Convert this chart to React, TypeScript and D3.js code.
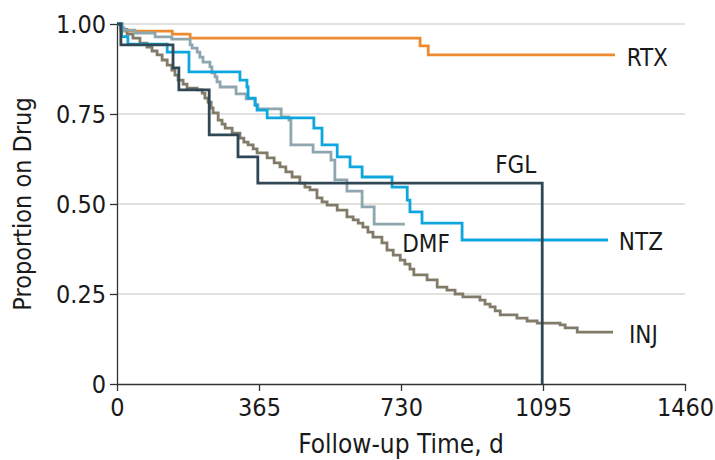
import React, { useRef, useEffect } from 'react';
import * as d3 from 'd3';

// Kaplan-Meier style drug persistence curves (days, proportion on drug)
const rtxDays = [0, 10, 142, 188, 779, 800, 1280];
const rtxSurv = [1, 0.98, 0.972, 0.961, 0.939, 0.914, 0.914];

const fglDays = [0, 10, 144, 159, 237, 311, 362, 1093, 1093];
const fglSurv = [1, 0.942, 0.878, 0.817, 0.692, 0.631, 0.558, 0, 0];

const ntzDays = [0, 12, 28, 129, 185, 316, 334, 337, 355, 360, 386, 506, 527, 566, 599, 630, 707, 746, 753, 784, 887, 1262];
const ntzSurv = [1, 0.965, 0.944, 0.922, 0.867, 0.844, 0.825, 0.794, 0.775, 0.761, 0.739, 0.711, 0.664, 0.631, 0.603, 0.575, 0.547, 0.511, 0.478, 0.447, 0.4, 0.4];

const dmfDays = [0, 8, 18, 46, 98, 141, 188, 193, 206, 213, 221, 239, 244, 252, 257, 265, 306, 332, 355, 362, 422, 442, 447, 504, 550, 560, 591, 630, 661, 740];
const dmfSurv = [1, 0.99, 0.983, 0.975, 0.964, 0.958, 0.942, 0.933, 0.922, 0.908, 0.894, 0.881, 0.864, 0.853, 0.839, 0.825, 0.806, 0.792, 0.775, 0.764, 0.742, 0.733, 0.664, 0.644, 0.622, 0.567, 0.536, 0.492, 0.444, 0.444];

const injDays = [0, 13, 26, 41, 59, 77, 90, 103, 116, 129, 141, 149, 157, 170, 180, 206, 219, 226, 234, 242, 247, 260, 270, 278, 296, 316, 326, 337, 350, 360, 386, 404, 419, 434, 450, 470, 483, 496, 514, 527, 540, 566, 591, 607, 620, 632, 645, 658, 681, 694, 710, 728, 740, 753, 763, 797, 823, 848, 869, 889, 933, 946, 959, 972, 985, 1028, 1054, 1080, 1139, 1152, 1183, 1275];
const injSurv = [1, 0.985, 0.972, 0.961, 0.947, 0.936, 0.925, 0.914, 0.9, 0.886, 0.872, 0.858, 0.844, 0.833, 0.822, 0.817, 0.808, 0.794, 0.783, 0.767, 0.753, 0.733, 0.722, 0.711, 0.697, 0.683, 0.672, 0.664, 0.653, 0.642, 0.628, 0.614, 0.603, 0.589, 0.575, 0.558, 0.547, 0.539, 0.517, 0.506, 0.497, 0.483, 0.464, 0.456, 0.447, 0.436, 0.422, 0.408, 0.392, 0.372, 0.358, 0.344, 0.333, 0.319, 0.303, 0.289, 0.269, 0.261, 0.25, 0.242, 0.233, 0.222, 0.214, 0.203, 0.192, 0.183, 0.175, 0.169, 0.164, 0.156, 0.144, 0.144];

const xTicks = [0, 365, 730, 1095, 1460];
const yTicks = [0, 0.25, 0.5, 0.75, 1];
const yTickLabels = ['0', '0.25', '0.50', '0.75', '1.00'];

const series = [
    { name: 'RTX', days: rtxDays, surv: rtxSurv, color: '#ee8a2e' },
    { name: 'INJ', days: injDays, surv: injSurv, color: '#837b69' },
    { name: 'DMF', days: dmfDays, surv: dmfSurv, color: '#8ea6ae' },
    { name: 'NTZ', days: ntzDays, surv: ntzSurv, color: '#0ea7dd' },
    { name: 'FGL', days: fglDays, surv: fglSurv, color: '#304756' },
];

// label anchor points in data units
const labels = [
    { name: 'RTX', day: 1310, val: 0.883 },
    { name: 'FGL', day: 972, val: 0.585 },
    { name: 'DMF', day: 733, val: 0.366 },
    { name: 'NTZ', day: 1290, val: 0.372 },
    { name: 'INJ', day: 1316, val: 0.114 },
];

function App() {
    const ref = useRef(null);

    useEffect(() => {
        const width = 715;
        const height = 460;
        const font = "'DejaVu Sans Condensed', sans-serif";

        const svg = d3.select(ref.current);
        svg.selectAll('*').remove();

        const x = d3.scaleLinear().domain([0, 1460]).range([117, 685]);
        const y = d3.scaleLinear().domain([0, 1]).range([384, 24]);

        // grid
        svg.append('g')
            .selectAll('line')
            .data(yTicks.filter(d => d > 0))
            .enter().append('line')
            .attr('x1', x(0)).attr('x2', x(1460))
            .attr('y1', d => y(d)).attr('y2', d => y(d))
            .attr('stroke', '#e1e1dd')
            .attr('stroke-width', 2);

        // axes
        const xAxis = svg.append('g')
            .attr('transform', 'translate(0,' + y(0) + ')')
            .call(d3.axisBottom(x).tickValues(xTicks).tickFormat(d => String(d)).tickSize(7).tickPadding(7).tickSizeOuter(0));
        const yAxis = svg.append('g')
            .attr('transform', 'translate(' + x(0) + ',0)')
            .call(d3.axisLeft(y).tickValues(yTicks).tickFormat((d, i) => yTickLabels[i]).tickSize(7).tickPadding(4).tickSizeOuter(0));

        [xAxis, yAxis].forEach(a => {
            a.select('.domain').attr('stroke', '#333').attr('stroke-width', 1.3);
            a.selectAll('.tick line').attr('stroke', '#333').attr('stroke-width', 1.3);
            a.selectAll('.tick text')
                .attr('fill', '#1a1a1a')
                .style('font-family', font)
                .style('font-size', '25px');
        });

        // curves
        const line = d3.line()
            .x(d => x(d[0]))
            .y(d => y(d[1]))
            .curve(d3.curveStepAfter);

        svg.append('g')
            .selectAll('path')
            .data(series)
            .enter().append('path')
            .attr('d', s => line(s.days.map((d, i) => [d, s.surv[i]])))
            .attr('fill', 'none')
            .attr('stroke', s => s.color)
            .attr('stroke-width', 2.8);

        // series labels
        svg.append('g')
            .selectAll('text')
            .data(labels)
            .enter().append('text')
            .attr('x', d => x(d.day))
            .attr('y', d => y(d.val))
            .attr('fill', '#1a1a1a')
            .style('font-family', font)
            .style('font-size', '24px')
            .text(d => d.name);

        // axis titles
        svg.append('text')
            .attr('x', (x(0) + x(1460)) / 2)
            .attr('y', 453)
            .attr('text-anchor', 'middle')
            .attr('fill', '#1a1a1a')
            .style('font-family', font)
            .style('font-size', '26px')
            .text('Follow-up Time, d');

        svg.append('text')
            .attr('transform', 'translate(31,' + y(0.5) + ') rotate(-90)')
            .attr('text-anchor', 'middle')
            .attr('fill', '#1a1a1a')
            .style('font-family', font)
            .style('font-size', '25px')
            .text('Proportion on Drug');

        svg.attr('width', width).attr('height', height);
    }, []);

    return (
        <svg ref={ref} width={715} height={460} style={{ position: 'absolute', left: 0, top: 0, background: '#fff' }} />
    );
}

export default App;
